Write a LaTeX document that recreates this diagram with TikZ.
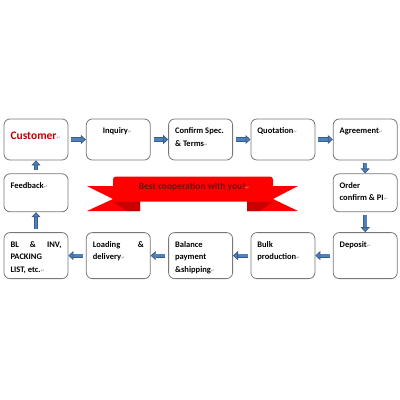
\documentclass[tikz,border=0pt]{standalone}
\usepackage{fontspec}
\setmainfont{Carlito}
\newfontfamily\markfont{DejaVu Sans}
\usetikzlibrary{positioning, arrows.meta}
\definecolor{boxgray}{RGB}{120,120,120}
\definecolor{custred}{RGB}{192,0,0}
\definecolor{arrowedge}{RGB}{56,93,138}
\definecolor{arrowfill}{RGB}{79,129,189}
\definecolor{bannerred}{RGB}{255,0,0}
\definecolor{folddark}{RGB}{200,0,0}
\definecolor{bannertext}{RGB}{105,20,20}
\newcommand{\pmark}{{\markfont\fontsize{4.5}{5}\selectfont\textcolor{gray!70}{↵}}}
\newcommand{\boxtxt}[2]{\parbox[c][#1][t]{51pt}{\strut #2}}
\tikzset{
    flowbox/.style={rectangle, rounded corners=6pt, draw=boxgray, fill=white, line width=0.8pt, inner xsep=6.5pt, inner ysep=6pt, font=\bfseries\fontsize{8.5}{12.4}\selectfont},
    blockarr/.style={draw=arrowedge, double=arrowfill, double distance=2.6pt, line width=0.8pt, -{Triangle[length=5pt, width=9pt, fill=arrowfill]}, shorten <=3pt},
    ribbon/.style={fill=bannerred},
    ribbonfold/.style={fill=folddark},
    banner/.style={font=\bfseries\fontsize{9.5}{11}\selectfont, text=bannertext, inner sep=0pt}
}
\begin{document}
\begin{tikzpicture}[x=1pt, y=-1pt, node distance=17.5pt]
    \useasboundingbox (0,0) rectangle (400,400);
    % ribbon in the middle
    \fill[ribbon] (87,186) -- (140,186) -- (140,211) -- (87,211) -- (113,199) -- cycle;
    \fill[ribbon] (247,186) -- (298,186) -- (273,199) -- (298,211) -- (247,211) -- cycle;
    \fill[ribbonfold] (113,201.5) -- (140,201.5) -- (140,211) -- (127,211) -- cycle;
    \fill[ribbonfold] (247,201.5) -- (273,201.5) -- (260,211) -- (247,211) -- cycle;
    \fill[ribbon, rounded corners=3pt] (113,176.5) rectangle (273,201.5);
    \node[banner] (motto) at (194,187) {Best cooperation with you!\pmark};

    \node[flowbox] (cust) at (36,139.5) {\boxtxt{29pt}{{\fontsize{11.5}{21}\selectfont\strut\color{custred}Customer}\pmark}};
    \node[flowbox, right=of cust] (inq) {\boxtxt{29pt}{\hspace*{10pt}Inquiry\pmark}};
    \node[flowbox, right=of inq] (conf) {\boxtxt{29pt}{\mbox{Confirm\ Spec.}\\\& Terms\pmark}};
    \node[flowbox, right=of conf] (quot) {\boxtxt{29pt}{Quotation\pmark}};
    \node[flowbox, right=of quot] (agr) {\boxtxt{29pt}{Agreement\pmark}};
    \node[flowbox, below=13pt of agr] (order) {\boxtxt{26pt}{Order\\confirm \& PI\pmark}};
    \node[flowbox, below=20pt of order] (dep) {\boxtxt{34pt}{Deposit\pmark}};
    \node[flowbox, left=of dep] (bulk) {\boxtxt{34pt}{Bulk\\production\pmark}};
    \node[flowbox, left=of bulk] (bal) {\boxtxt{34pt}{Balance\\payment\\\&shipping\pmark}};
    \node[flowbox, left=of bal] (load) {\boxtxt{34pt}{\hbox to\linewidth{Loading\hfill\&}\\delivery\pmark}};
    \node[flowbox, left=of load] (bl) {\boxtxt{34pt}{\hbox to\linewidth{BL\hfill\&\hfill INV,}\\PACKING\\LIST, etc.\pmark}};
    \node[flowbox, below=13pt of cust] (fb) {\boxtxt{26pt}{Feedback\pmark}};

    \draw[blockarr] (cust) -- (inq);
    \draw[blockarr] (inq) -- (conf);
    \draw[blockarr] (conf) -- (quot);
    \draw[blockarr] (quot) -- (agr);
    \draw[blockarr] (agr) -- (order);
    \draw[blockarr] (order) -- (dep);
    \draw[blockarr] (dep) -- (bulk);
    \draw[blockarr] (bulk) -- (bal);
    \draw[blockarr] (bal) -- (load);
    \draw[blockarr] (load) -- (bl);
    \draw[blockarr] (bl) -- (fb);
    \draw[blockarr] (fb) -- (cust);
\end{tikzpicture}
\end{document}
